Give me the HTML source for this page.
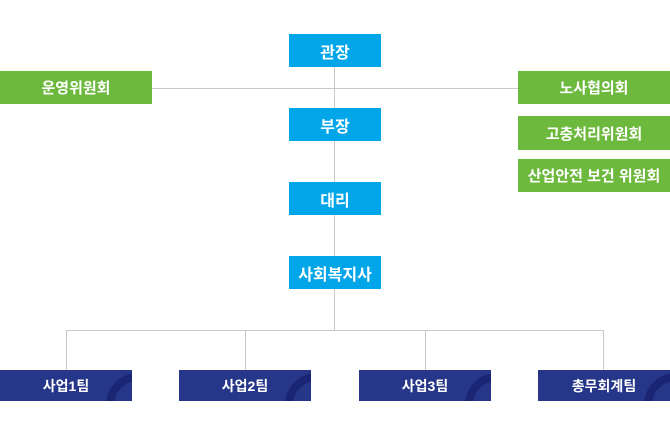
<!DOCTYPE html>
<html><head><meta charset="utf-8"><style>
body{margin:0;width:670px;height:421px;background:#fff;position:relative;overflow:hidden;font-family:"Liberation Sans","Noto Sans CJK KR",sans-serif;}
.b{position:absolute;color:#fff;font-size:15px;font-weight:bold;display:flex;align-items:center;justify-content:center;overflow:hidden}
.blue{background:#00a6e8;left:289px;width:92px;height:33px;font-size:16px}
.green{background:#6db93e;height:33px}
.navy{background:#263689;width:132px;height:31px;top:370px;font-size:14px}
.navy i{position:absolute;left:106px;top:3px;width:64px;height:64px;border-radius:50%;border:8px solid #1a2674;box-sizing:border-box}
.navy span{position:relative}
.l{position:absolute;background:#c8c8c8}
</style></head><body>
<div class="l" style="left:334px;top:67px;width:1px;height:263px"></div>
<div class="l" style="left:152px;top:88px;width:366px;height:1px"></div>
<div class="l" style="left:66px;top:330px;width:538px;height:1px"></div>
<div class="l" style="left:66px;top:330px;width:1px;height:40px"></div>
<div class="l" style="left:245px;top:330px;width:1px;height:40px"></div>
<div class="l" style="left:425px;top:330px;width:1px;height:40px"></div>
<div class="l" style="left:603px;top:330px;width:1px;height:40px"></div>
<div class="b blue" style="top:34px">관장</div>
<div class="b blue" style="top:108px">부장</div>
<div class="b blue" style="top:182px">대리</div>
<div class="b blue" style="top:256px">사회복지사</div>
<div class="b green" style="left:0;top:71px;width:152px">운영위원회</div>
<div class="b green" style="left:518px;top:71px;width:152px">노사협의회</div>
<div class="b green" style="left:518px;top:116px;width:152px;height:34px">고충처리위원회</div>
<div class="b green" style="left:518px;top:159px;width:152px">산업안전 보건 위원회</div>
<div class="b navy" style="left:0"><i></i><span>사업1팀</span></div>
<div class="b navy" style="left:179px"><i></i><span>사업2팀</span></div>
<div class="b navy" style="left:359px"><i></i><span>사업3팀</span></div>
<div class="b navy" style="left:538px"><i></i><span>총무회계팀</span></div>
</body></html>
